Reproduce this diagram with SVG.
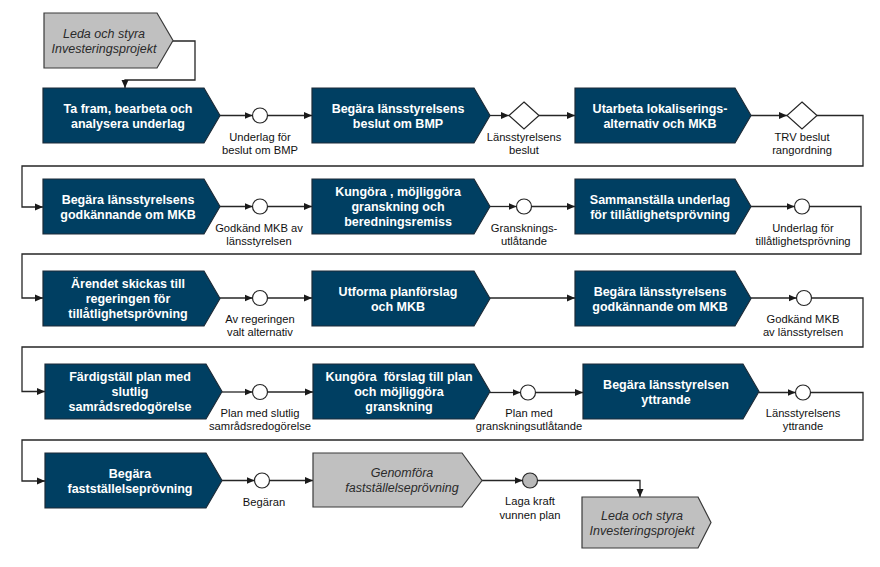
<svg xmlns="http://www.w3.org/2000/svg" width="880" height="567" viewBox="0 0 880 567">
<defs>
<marker id="arr" markerWidth="8" markerHeight="8" refX="8" refY="4" orient="auto" markerUnits="userSpaceOnUse">
<path d="M0,0.5 L8,4 L0,7.5 Z" fill="#1a1a1a"/>
</marker>
<style>
.blue{fill:#003f62;stroke:#1c2b38;stroke-width:1.2}
.gray{fill:#c0c0c0;stroke:#3a3a3a;stroke-width:1.2}
.bt{font-family:"Liberation Sans",Arial,sans-serif;font-weight:bold;font-size:12.5px;fill:#ffffff;text-anchor:middle}
.gt{font-family:"Liberation Sans",Arial,sans-serif;font-style:italic;font-size:12.5px;fill:#2a2a2a;text-anchor:middle}
.lb{font-family:"Liberation Sans",Arial,sans-serif;font-size:11.2px;fill:#111111;text-anchor:middle}
.ln{fill:none;stroke:#262626;stroke-width:1.3}
.ev{fill:#ffffff;stroke:#262626;stroke-width:1.2}
.evg{fill:#b8b8b8;stroke:#262626;stroke-width:1.2}
</style>
</defs>
<rect width="880" height="567" fill="#ffffff"/>

<g id="connectors">
<path class="ln" d="M173,41 H195 V80 H125 V88" marker-end="url(#arr)"/>
<path class="ln" d="M220,115.5 H252.5" marker-end="url(#arr)"/>
<path class="ln" d="M267.5,115.5 H312" marker-end="url(#arr)"/>
<path class="ln" d="M490,115.5 H509" marker-end="url(#arr)"/>
<path class="ln" d="M539,115.5 H575" marker-end="url(#arr)"/>
<path class="ln" d="M751,115.5 H787" marker-end="url(#arr)"/>
<path class="ln" d="M817,115.5 H863 V166 H22 V207 H43" marker-end="url(#arr)"/>
<path class="ln" d="M220,206.5 H252.5" marker-end="url(#arr)"/>
<path class="ln" d="M267.5,206.5 H312" marker-end="url(#arr)"/>
<path class="ln" d="M490,206.5 H516.5" marker-end="url(#arr)"/>
<path class="ln" d="M531.5,206.5 H575" marker-end="url(#arr)"/>
<path class="ln" d="M751,206.5 H794.5" marker-end="url(#arr)"/>
<path class="ln" d="M809.5,206.5 H861 V254 H22 V298 H43" marker-end="url(#arr)"/>
<path class="ln" d="M220,298 H252.5" marker-end="url(#arr)"/>
<path class="ln" d="M267.5,298 H312" marker-end="url(#arr)"/>
<path class="ln" d="M490,298 H575" marker-end="url(#arr)"/>
<path class="ln" d="M751,298 H796.5" marker-end="url(#arr)"/>
<path class="ln" d="M811.5,298 H863 V347 H22 V391.5 H45" marker-end="url(#arr)"/>
<path class="ln" d="M222,392 H252.5" marker-end="url(#arr)"/>
<path class="ln" d="M267.5,392 H313" marker-end="url(#arr)"/>
<path class="ln" d="M490,392.5 H520.5" marker-end="url(#arr)"/>
<path class="ln" d="M535.5,392.5 H583" marker-end="url(#arr)"/>
<path class="ln" d="M759,392.5 H795.5" marker-end="url(#arr)"/>
<path class="ln" d="M810.5,392.5 H863 V440 H22 V481 H45" marker-end="url(#arr)"/>
<path class="ln" d="M222,480.5 H254.5" marker-end="url(#arr)"/>
<path class="ln" d="M269.5,480.5 H313" marker-end="url(#arr)"/>
<path class="ln" d="M482,480.5 H522.5" marker-end="url(#arr)"/>
<path class="ln" d="M537.5,480.5 H640 V497" marker-end="url(#arr)"/>
</g>

<g id="start">
<polygon class="gray" points="44,13 157,13 173,40.5 157,68 44,68"/>
<text class="gt" x="104" y="38">Leda och styra</text>
<text class="gt" x="104" y="53">Investeringsprojekt</text>
</g>

<g id="n1">
<polygon class="blue" points="43,88 204,88 220,115.5 204,143 43,143"/>
<text class="bt" x="128" y="113">Ta fram, bearbeta och</text>
<text class="bt" x="128" y="128">analysera underlag</text>
</g>
<g id="e1">
<circle class="ev" cx="260" cy="115.5" r="7.5"/>
<text class="lb" x="260" y="141">Underlag för</text>
<text class="lb" x="260" y="154">beslut om BMP</text>
</g>
<g id="n2">
<polygon class="blue" points="312,88 474,88 490,115.5 474,143 312,143"/>
<text class="bt" x="398" y="113">Begära länsstyrelsens</text>
<text class="bt" x="398" y="128">beslut om BMP</text>
</g>
<g id="d1">
<polygon class="ev" points="524,102 539,115.5 524,129 509,115.5"/>
<text class="lb" x="524" y="141">Länsstyrelsens</text>
<text class="lb" x="524" y="154">beslut</text>
</g>
<g id="n3">
<polygon class="blue" points="575,88 735,88 751,115.5 735,143 575,143"/>
<text class="bt" x="660" y="113">Utarbeta lokaliserings-</text>
<text class="bt" x="660" y="128">alternativ och MKB</text>
</g>
<g id="d2">
<polygon class="ev" points="802,102 817,115.5 802,129 787,115.5"/>
<text class="lb" x="802" y="141">TRV beslut</text>
<text class="lb" x="802" y="154">rangordning</text>
</g>

<g id="n4">
<polygon class="blue" points="43,179 204,179 220,206.5 204,234 43,234"/>
<text class="bt" x="128" y="204">Begära länsstyrelsens</text>
<text class="bt" x="128" y="219">godkännande om MKB</text>
</g>
<g id="e2">
<circle class="ev" cx="260" cy="206.5" r="7.5"/>
<text class="lb" x="259" y="232">Godkänd MKB av</text>
<text class="lb" x="259" y="245">länsstyrelsen</text>
</g>
<g id="n5">
<polygon class="blue" points="312,179 474,179 490,206.5 474,234 312,234"/>
<text class="bt" x="398" y="196">Kungöra , möjliggöra</text>
<text class="bt" x="398" y="211">granskning och</text>
<text class="bt" x="398" y="226">beredningsremiss</text>
</g>
<g id="e3">
<circle class="ev" cx="524" cy="206.5" r="7.5"/>
<text class="lb" x="524" y="232">Gransknings-</text>
<text class="lb" x="524" y="245">utlåtande</text>
</g>
<g id="n6">
<polygon class="blue" points="575,179 735,179 751,206.5 735,234 575,234"/>
<text class="bt" x="660" y="204">Sammanställa underlag</text>
<text class="bt" x="660" y="219">för tillåtlighetsprövning</text>
</g>
<g id="e4">
<circle class="ev" cx="802" cy="206.5" r="7.5"/>
<text class="lb" x="803" y="232">Underlag för</text>
<text class="lb" x="803" y="245">tillåtlighetsprövning</text>
</g>

<g id="n7">
<polygon class="blue" points="43,271 204,271 220,298.5 204,326 43,326"/>
<text class="bt" x="128" y="288">Ärendet skickas till</text>
<text class="bt" x="128" y="303">regeringen för</text>
<text class="bt" x="128" y="318">tillåtlighetsprövning</text>
</g>
<g id="e5">
<circle class="ev" cx="260" cy="298" r="7.5"/>
<text class="lb" x="260" y="323">Av regeringen</text>
<text class="lb" x="260" y="336">valt alternativ</text>
</g>
<g id="n8">
<polygon class="blue" points="312,271 474,271 490,298.5 474,326 312,326"/>
<text class="bt" x="398" y="296">Utforma planförslag</text>
<text class="bt" x="398" y="311">och MKB</text>
</g>
<g id="n9">
<polygon class="blue" points="575,271 735,271 751,298.5 735,326 575,326"/>
<text class="bt" x="660" y="296">Begära länsstyrelsens</text>
<text class="bt" x="660" y="311">godkännande om MKB</text>
</g>
<g id="e6">
<circle class="ev" cx="804" cy="298" r="7.5"/>
<text class="lb" x="803" y="323">Godkänd MKB</text>
<text class="lb" x="803" y="336">av länsstyrelsen</text>
</g>

<g id="n10">
<polygon class="blue" points="45,364 206,364 222,391.5 206,419 45,419"/>
<text class="bt" x="130" y="381">Färdigställ plan med</text>
<text class="bt" x="130" y="396">slutlig</text>
<text class="bt" x="130" y="411">samrådsredogörelse</text>
</g>
<g id="e7">
<circle class="ev" cx="260" cy="392" r="7.5"/>
<text class="lb" x="260" y="417">Plan med slutlig</text>
<text class="lb" x="260" y="430">samrådsredogörelse</text>
</g>
<g id="n11">
<polygon class="blue" points="313,364 474,364 490,391.5 474,419 313,419"/>
<text class="bt" x="399" y="381">Kungöra&#160; förslag till plan</text>
<text class="bt" x="399" y="396">och möjliggöra</text>
<text class="bt" x="399" y="411">granskning</text>
</g>
<g id="e8">
<circle class="ev" cx="528" cy="392.5" r="7.5"/>
<text class="lb" x="529" y="417">Plan med</text>
<text class="lb" x="529" y="430">granskningsutlåtande</text>
</g>
<g id="n12">
<polygon class="blue" points="583,364 743,364 759,391.5 743,419 583,419"/>
<text class="bt" x="666" y="389">Begära länsstyrelsen</text>
<text class="bt" x="666" y="404">yttrande</text>
</g>
<g id="e9">
<circle class="ev" cx="803" cy="392.5" r="7.5"/>
<text class="lb" x="803" y="417">Länsstyrelsens</text>
<text class="lb" x="803" y="430">yttrande</text>
</g>

<g id="n13">
<polygon class="blue" points="45,453 206,453 222,480.5 206,508 45,508"/>
<text class="bt" x="130" y="478">Begära</text>
<text class="bt" x="130" y="493">fastställelseprövning</text>
</g>
<g id="e10">
<circle class="ev" cx="262" cy="480.5" r="7.5"/>
<text class="lb" x="264" y="506">Begäran</text>
</g>
<g id="n14">
<polygon class="gray" points="313,453 462,453 482,480.5 462,507 313,507"/>
<text class="gt" x="402" y="477">Genomföra</text>
<text class="gt" x="402" y="492">fastställelseprövning</text>
</g>
<g id="e11">
<circle class="evg" cx="530" cy="480.5" r="7.5"/>
<text class="lb" x="530" y="505">Laga kraft</text>
<text class="lb" x="530" y="519">vunnen plan</text>
</g>
<g id="end">
<polygon class="gray" points="582,497 698,497 711,522.5 698,548 582,548"/>
<text class="gt" x="642" y="520">Leda och styra</text>
<text class="gt" x="642" y="535">Investeringsprojekt</text>
</g>
</svg>
